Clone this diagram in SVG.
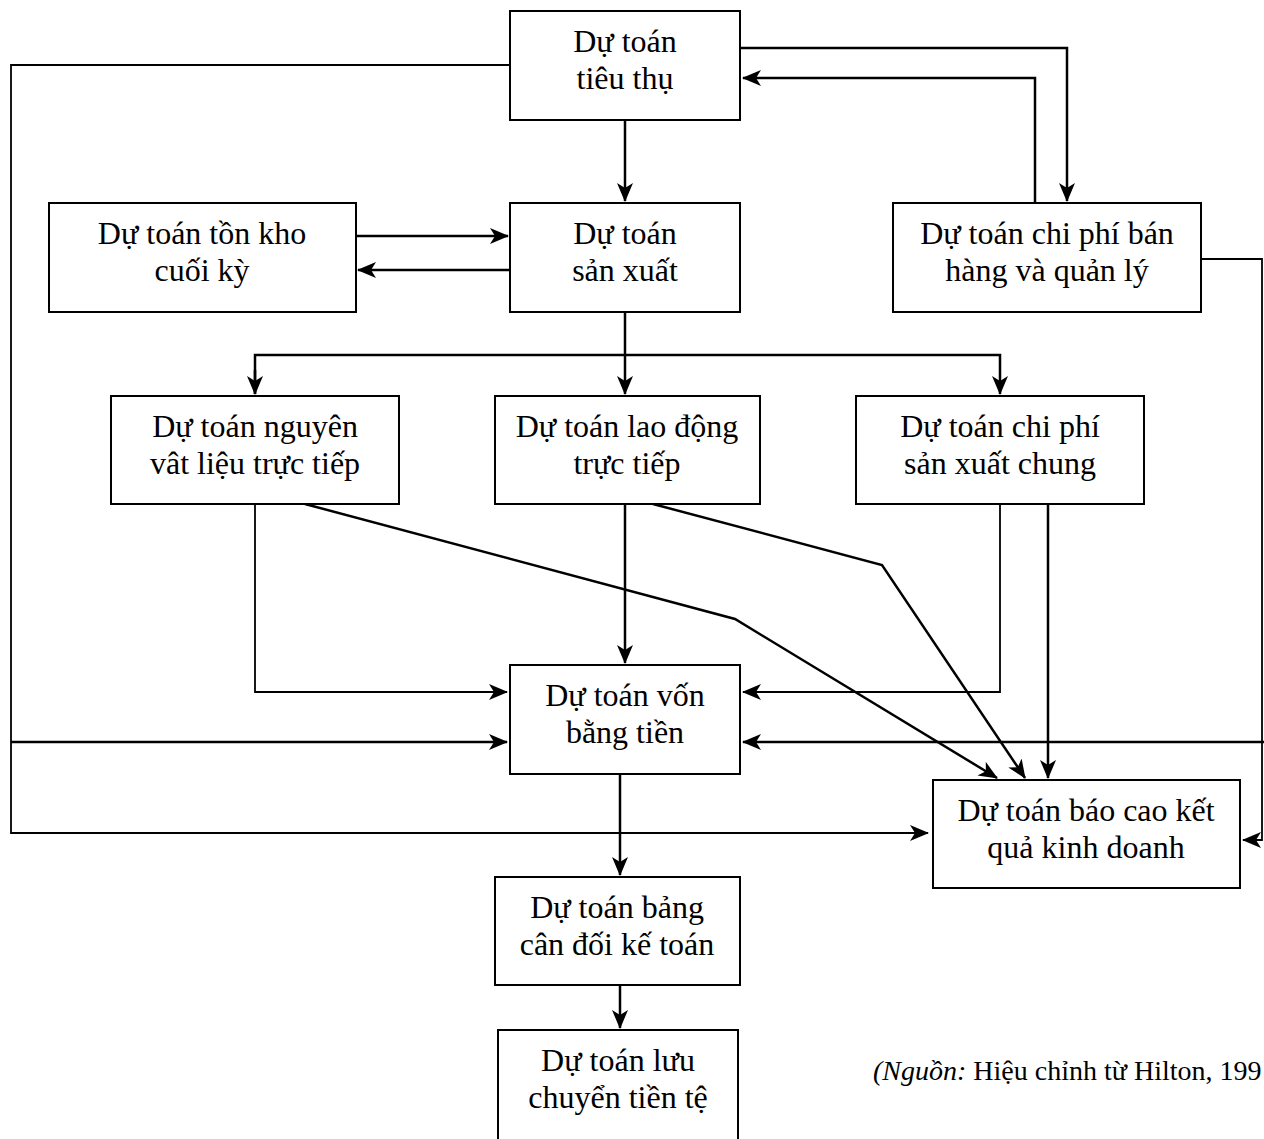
<svg xmlns="http://www.w3.org/2000/svg" width="1264" height="1139" viewBox="0 0 1264 1139">
  <style>
    .box { fill: #ffffff; stroke: #000000; stroke-width: 2; }
    .lbl { font-family: 'Liberation Serif', 'DejaVu Serif', serif; font-size: 32px; fill: #000000; text-anchor: middle; }
    .ln { fill: none; stroke: #000000; stroke-width: 2.5; }
    .thin { fill: none; stroke: #000000; stroke-width: 1.8; }
    .src { font-family: 'Liberation Serif', 'DejaVu Serif', serif; font-size: 28px; fill: #000000; }
  </style>
  <defs>
    <marker id="ah" markerUnits="userSpaceOnUse" markerWidth="22" markerHeight="18" refX="18" refY="8" orient="auto">
      <path d="M0,0 L19,8 L0,16 L5,8 z" fill="#000000"/>
    </marker>
  </defs>
  <rect width="1264" height="1139" fill="#ffffff"/>

  <g id="connectors">
    <!-- sales budget loop to income statement along left side -->
    <polyline class="thin" points="510,65 11,65 11,833 928,833" marker-end="url(#ah)"/>
    <line class="ln" x1="11" y1="742" x2="507" y2="742" marker-end="url(#ah)"/>
    <!-- sales <-> selling & admin expenses -->
    <polyline class="ln" points="740,48 1067,48 1067,201" marker-end="url(#ah)"/>
    <polyline class="ln" points="1035,203 1035,78 743,78" marker-end="url(#ah)"/>
    <!-- sales -> production -->
    <line class="ln" x1="625" y1="120" x2="625" y2="201" marker-end="url(#ah)"/>
    <!-- inventory <-> production -->
    <line class="ln" x1="356" y1="236" x2="508" y2="236" marker-end="url(#ah)"/>
    <line class="ln" x1="510" y1="270" x2="358" y2="270" marker-end="url(#ah)"/>
    <!-- production -> three cost budgets -->
    <line class="ln" x1="625" y1="312" x2="625" y2="394" marker-end="url(#ah)"/>
    <polyline class="ln" points="255,394 255,355 1000,355 1000,394" marker-end="url(#ah)"/>
    <line class="ln" x1="255" y1="370" x2="255" y2="394" marker-end="url(#ah)"/>
    <!-- cost budgets -> cash budget -->
    <polyline class="thin" points="255,504 255,692 507,692" marker-end="url(#ah)"/>
    <line class="ln" x1="625" y1="504" x2="625" y2="663" marker-end="url(#ah)"/>
    <polyline class="thin" points="1000,504 1000,692 743,692" marker-end="url(#ah)"/>
    <!-- cost budgets -> income statement -->
    <polyline class="ln" points="305,504 735,619 997,778" marker-end="url(#ah)"/>
    <polyline class="ln" points="653,504 882,565 1025,778" marker-end="url(#ah)"/>
    <line class="ln" x1="1048" y1="504" x2="1048" y2="778" marker-end="url(#ah)"/>
    <!-- selling & admin expenses loop along right side -->
    <polyline class="thin" points="1201,259 1262,259 1262,840 1243,840" marker-end="url(#ah)"/>
    <line class="ln" x1="1264" y1="742" x2="743" y2="742" marker-end="url(#ah)"/>
    <!-- cash budget -> balance sheet -> cash flow -->
    <line class="ln" x1="620" y1="774" x2="620" y2="875" marker-end="url(#ah)"/>
    <line class="ln" x1="620" y1="985" x2="620" y2="1028" marker-end="url(#ah)"/>
  </g>

  <g font-family="'Liberation Serif', 'DejaVu Serif', serif">
  <g id="n-tieu-thu">
    <rect class="box" x="510" y="11" width="230" height="109"/>
    <text class="lbl" x="625" y="52">Dự toán</text>
    <text class="lbl" x="625" y="89">tiêu thụ</text>
  </g>
  <g id="n-ton-kho">
    <rect class="box" x="49" y="203" width="307" height="109"/>
    <text class="lbl" x="202" y="244">Dự toán tồn kho</text>
    <text class="lbl" x="202" y="281">cuối kỳ</text>
  </g>
  <g id="n-san-xuat">
    <rect class="box" x="510" y="203" width="230" height="109"/>
    <text class="lbl" x="625" y="244">Dự toán</text>
    <text class="lbl" x="625" y="281">sản xuất</text>
  </g>
  <g id="n-ban-hang">
    <rect class="box" x="893" y="203" width="308" height="109"/>
    <text class="lbl" x="1047" y="244">Dự toán chi phí bán</text>
    <text class="lbl" x="1047" y="281">hàng và quản lý</text>
  </g>
  <g id="n-nguyen-vat-lieu">
    <rect class="box" x="111" y="396" width="288" height="108"/>
    <text class="lbl" x="255" y="437">Dự toán nguyên</text>
    <text class="lbl" x="255" y="474">vât liệu trực tiếp</text>
  </g>
  <g id="n-lao-dong">
    <rect class="box" x="495" y="396" width="265" height="108"/>
    <text class="lbl" x="627" y="437">Dự toán lao động</text>
    <text class="lbl" x="627" y="474">trực tiếp</text>
  </g>
  <g id="n-san-xuat-chung">
    <rect class="box" x="856" y="396" width="288" height="108"/>
    <text class="lbl" x="1000" y="437">Dự toán chi phí</text>
    <text class="lbl" x="1000" y="474">sản xuất chung</text>
  </g>
  <g id="n-von-bang-tien">
    <rect class="box" x="510" y="665" width="230" height="109"/>
    <text class="lbl" x="625" y="706">Dự toán vốn</text>
    <text class="lbl" x="625" y="743">bằng tiền</text>
  </g>
  <g id="n-ket-qua">
    <rect class="box" x="933" y="780" width="307" height="108"/>
    <text class="lbl" x="1086" y="821">Dự toán báo cao kết</text>
    <text class="lbl" x="1086" y="858">quả kinh doanh</text>
  </g>
  <g id="n-can-doi">
    <rect class="box" x="495" y="877" width="245" height="108"/>
    <text class="lbl" x="617" y="918">Dự toán bảng</text>
    <text class="lbl" x="617" y="955">cân đối kế toán</text>
  </g>
  <g id="n-luu-chuyen">
    <rect class="box" x="498" y="1030" width="240" height="120"/>
    <text class="lbl" x="618" y="1071">Dự toán lưu</text>
    <text class="lbl" x="618" y="1108">chuyển tiền tệ</text>
  </g>

  <text class="src" x="873" y="1080"><tspan font-style="italic">(Nguồn:</tspan> Hiệu chỉnh từ Hilton, 199</text>
  </g>
</svg>
